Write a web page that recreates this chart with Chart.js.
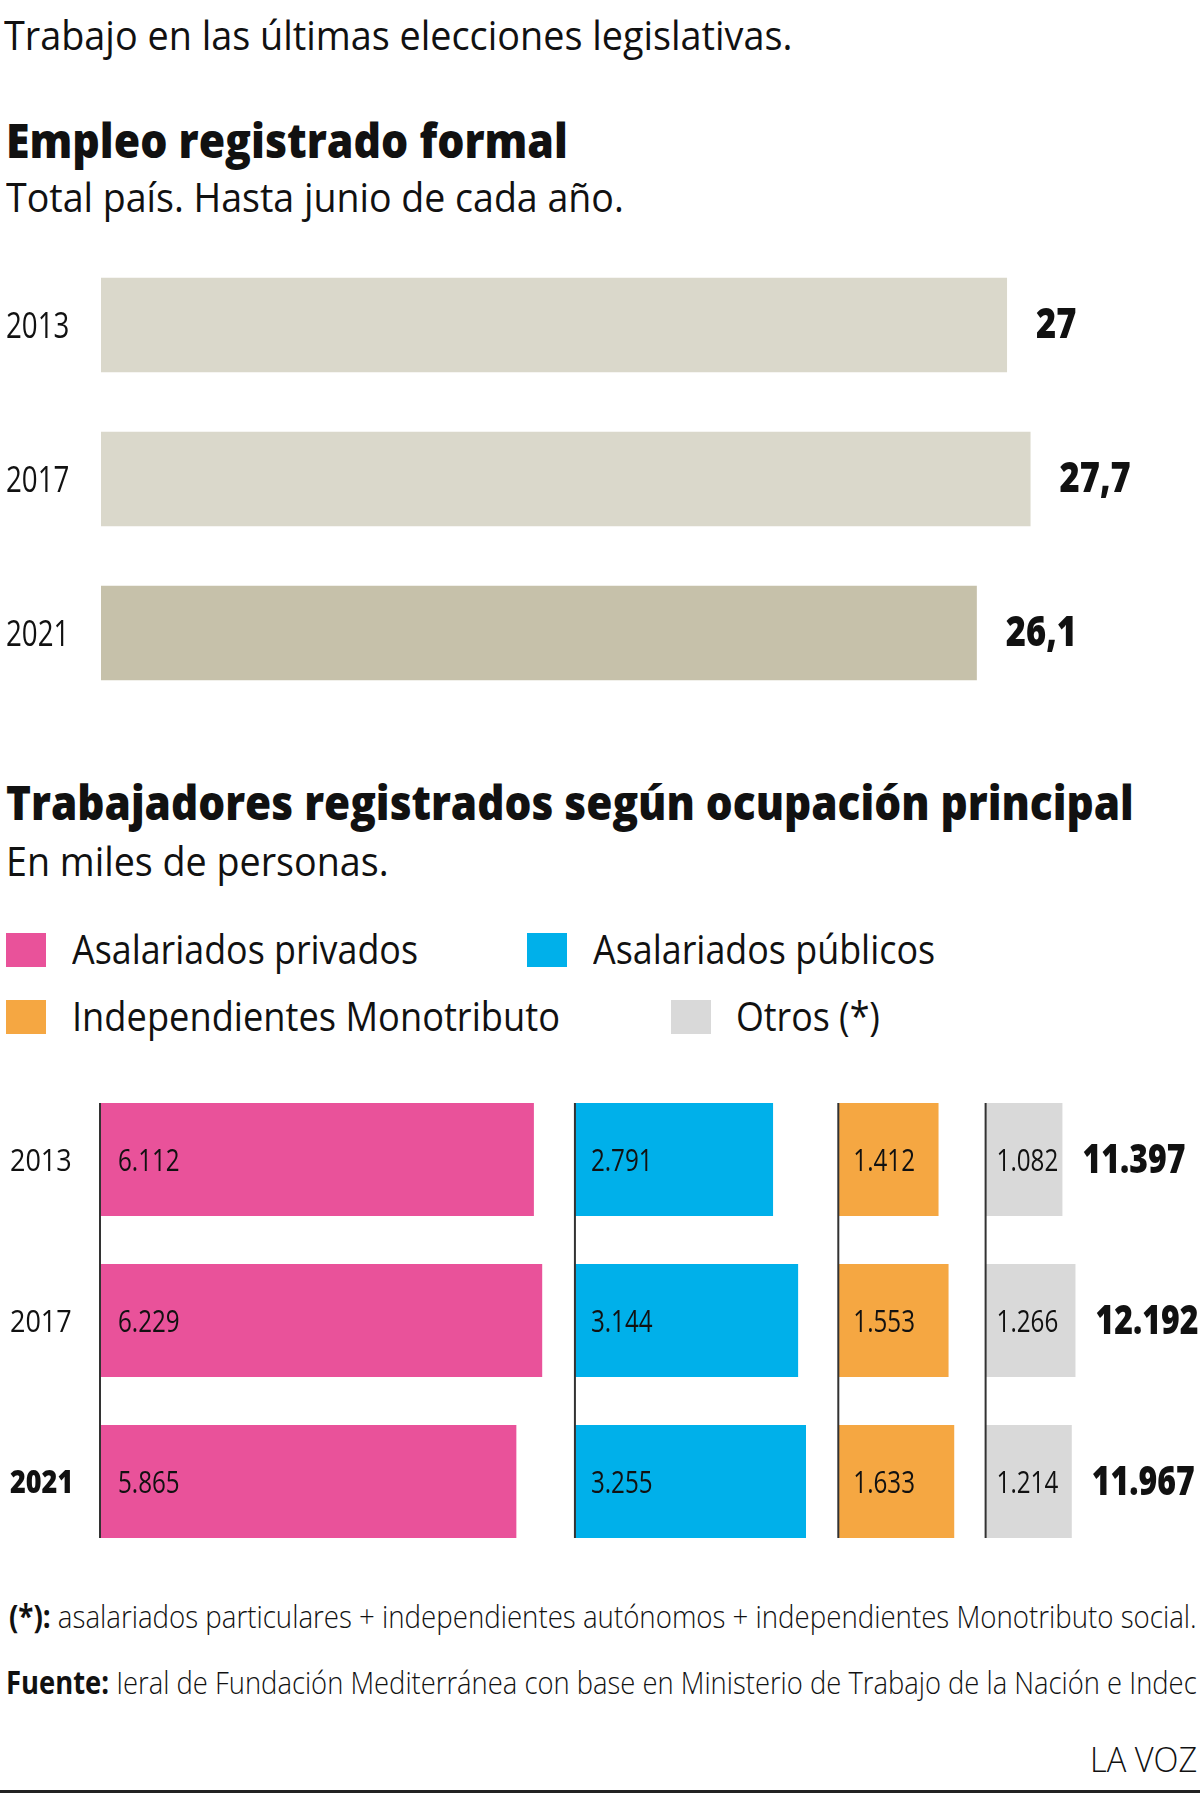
<!DOCTYPE html>
<html lang="es">
<head>
<meta charset="utf-8">
<title>Trabajo en las últimas elecciones legislativas</title>
<script src="https://cdn.jsdelivr.net/npm/chart.js@4.4.1/dist/chart.umd.min.js"></script>
<style>
  html, body { margin:0; padding:0; background:#fff; }
  body { width:1200px; height:1795px; position:relative; overflow:hidden;
         font-family:"Open Sans", "Noto Sans", sans-serif; color:#111; }
  .t { position:absolute; white-space:nowrap; line-height:1; transform-origin:left center; }
  .t.b { font-weight:800; }
  .t.l { font-weight:300; }
  .sq { position:absolute; width:40px; height:34px; }
  canvas { position:absolute; left:0; }
  #rule { position:absolute; left:0; top:1790px; width:1200px; height:3px; background:#222; }
</style>
</head>
<body>

<div class="t" data-x="4" data-y="36" data-w="788" data-fs="41">Trabajo en las últimas elecciones legislativas.</div>

<div class="t b" data-x="6" data-y="142" data-w="562" data-fs="47">Empleo registrado formal</div>
<div class="t" data-x="6" data-y="198" data-w="618" data-fs="41">Total país. Hasta junio de cada año.</div>

<canvas id="empleo" width="1200" height="462" style="top:248px"></canvas>

<div class="t b" data-x="6" data-y="804" data-w="1128" data-fs="47">Trabajadores registrados según ocupación principal</div>
<div class="t" data-x="6" data-y="862" data-w="383" data-fs="41">En miles de personas.</div>

<div id="legend"></div>

<canvas id="ocupacion" width="1200" height="483" style="top:1079px"></canvas>

<div class="t l" data-x="9" data-y="1617" data-w="1188" data-fs="32"><b style="font-weight:700">(*):</b> asalariados particulares + independientes autónomos + independientes Monotributo social.</div>
<div class="t l" data-x="6" data-y="1683" data-w="1191" data-fs="32"><b style="font-weight:700">Fuente:</b> Ieral de Fundación Mediterránea con base en Ministerio de Trabajo de la Nación e Indec</div>
<div class="t l" data-r="1197" data-y="1760" data-w="107" data-fs="35">LA VOZ</div>
<div id="rule"></div>

<script>
// datos
const YEARS = ["2013", "2017", "2021"];
const EMPLEO = [27, 27.7, 26.1];

const SERIES = ["Asalariados privados", "Asalariados públicos", "Independientes Monotributo", "Otros (*)"];
const PRIVADOS = [6112, 6229, 5865];
const PUBLICOS = [2791, 3144, 3255];
const MONOTRIBUTO = [1412, 1553, 1633];
const OTROS = [1082, 1266, 1214];
const TOTALES = [11397, 12192, 11967];

const EMPLEO_COLORS = ["#dad8cb", "#dad8cb", "#c6c1aa"];
const COLORS = ["#e9529a", "#00b0ea", "#f5a742", "#d9d9d9"];

// posiciones de la leyenda (cuadro x, y / texto x, centro y, ancho)
const LEGEND_POS = [
  [6, 933, 72, 950, 346],
  [527, 933, 593, 950, 342],
  [6, 1000, 72, 1017, 488],
  [671, 1000, 736, 1017, 144]
];

const legend = document.getElementById("legend");
SERIES.forEach((name, i) => {
  const p = LEGEND_POS[i];
  const sq = document.createElement("div");
  sq.className = "sq";
  sq.style.left = p[0] + "px";
  sq.style.top = p[1] + "px";
  sq.style.background = COLORS[i];
  legend.appendChild(sq);
  const tx = document.createElement("div");
  tx.className = "t";
  tx.textContent = name;
  tx.dataset.x = p[2]; tx.dataset.y = p[3]; tx.dataset.w = p[4]; tx.dataset.fs = 41;
  legend.appendChild(tx);
});

// textos html ajustados a su ancho
document.querySelectorAll(".t").forEach(el => {
  const fs = +el.dataset.fs;
  el.style.fontSize = fs + "px";
  el.style.top = (+el.dataset.y - 0.53 * fs) + "px";
  const w = el.offsetWidth;
  const sx = +el.dataset.w / w;
  if (el.dataset.r) {
    el.style.left = (+el.dataset.r - w) + "px";
    el.style.transformOrigin = "right center";
  } else {
    el.style.left = el.dataset.x + "px";
  }
  el.style.transform = `scaleX(${sx})`;
});

/* =====================
   helpers de texto
===================== */
function miles(v){
  return String(v).replace(/\B(?=(\d{3})+(?!\d))/g, ".");
}

function drawText(ctx, txt, x, y, size, weight, sx){
  ctx.save();
  ctx.font = `${weight} ${size}px "Open Sans", sans-serif`;
  ctx.fillStyle = "#111";
  ctx.textBaseline = "alphabetic";
  ctx.textAlign = "left";
  ctx.translate(x, y + size * 0.357);
  ctx.scale(sx, 1);
  ctx.fillText(txt, 0, 0);
  ctx.restore();
}

/* =====================
   Empleo registrado formal
===================== */
const empleoText = {
  id: "empleoText",
  afterDatasetsDraw(chart){
    const ctx = chart.ctx;
    const y = chart.scales.y;
    const meta = chart.getDatasetMeta(0);
    YEARS.forEach((yr, i) => {
      const cy = y.getPixelForValue(i);
      drawText(ctx, yr, 6, cy, 36, 500, 0.77);
      const bar = meta.data[i];
      drawText(ctx, String(EMPLEO[i]).replace(".", ","), bar.x + 29, cy - 2, 42, 800, 0.82);
    });
  }
};

new Chart(document.getElementById("empleo"), {
  type: "bar",
  data: {
    labels: YEARS,
    datasets: [{
      data: EMPLEO,
      backgroundColor: EMPLEO_COLORS,
      barPercentage: 0.615,
      categoryPercentage: 1
    }]
  },
  options: {
    indexAxis: "y",
    responsive: false,
    animation: false,
    layout: { padding: { left: 101 } },
    plugins: { legend: { display: false }, tooltip: { enabled: false } },
    scales: {
      x: { display: false, min: 0, max: 32.75 },
      y: { display: false }
    }
  },
  plugins: [empleoText]
});

/* =====================
   Trabajadores por ocupación
===================== */
const VALUES = [PRIVADOS, PUBLICOS, MONOTRIBUTO, OTROS];
const PANEL_MAX = [6690, 3710, 2075, 3020];
const LABEL_PAD = [18, 16, 15, 11];

const ocupText = {
  id: "ocupText",
  afterDatasetsDraw(chart){
    const ctx = chart.ctx;
    const y = chart.scales.y;
    VALUES.forEach((vals, i) => {
      const sc = chart.scales["x" + i];
      const x0 = sc.getPixelForValue(0);
      const meta = chart.getDatasetMeta(i);
      const first = meta.data[0], last = meta.data[meta.data.length - 1];
      ctx.save();
      ctx.strokeStyle = "#333";
      ctx.lineWidth = 2;
      ctx.beginPath();
      ctx.moveTo(x0, first.y - first.height / 2);
      ctx.lineTo(x0, last.y + last.height / 2);
      ctx.stroke();
      ctx.restore();
      vals.forEach((v, j) => {
        drawText(ctx, miles(v), x0 + LABEL_PAD[i], meta.data[j].y, 31, 500, 0.78);
      });
    });
    const otros = chart.getDatasetMeta(3);
    YEARS.forEach((yr, j) => {
      const cy = y.getPixelForValue(j);
      drawText(ctx, yr, 10, cy, 31, j === YEARS.length - 1 ? 800 : 500, 0.87);
      drawText(ctx, miles(TOTALES[j]), otros.data[j].x + 20, cy - 1, 40, 800, 0.8);
    });
  }
};

const scales = { y: { display: false } };
PANEL_MAX.forEach((m, i) => {
  scales["x" + i] = {
    type: "linear",
    position: "bottom",
    stack: "panel",
    stackWeight: m,
    min: 0,
    max: m,
    display: false
  };
});

new Chart(document.getElementById("ocupacion"), {
  type: "bar",
  data: {
    labels: YEARS,
    datasets: SERIES.map((name, i) => ({
      label: name,
      data: VALUES[i],
      xAxisID: "x" + i,
      backgroundColor: COLORS[i],
      grouped: false,
      barPercentage: 0.702,
      categoryPercentage: 1
    }))
  },
  options: {
    indexAxis: "y",
    responsive: false,
    animation: false,
    layout: { padding: { left: 100 } },
    plugins: { legend: { display: false }, tooltip: { enabled: false } },
    scales: scales
  },
  plugins: [ocupText]
});
</script>
</body>
</html>
